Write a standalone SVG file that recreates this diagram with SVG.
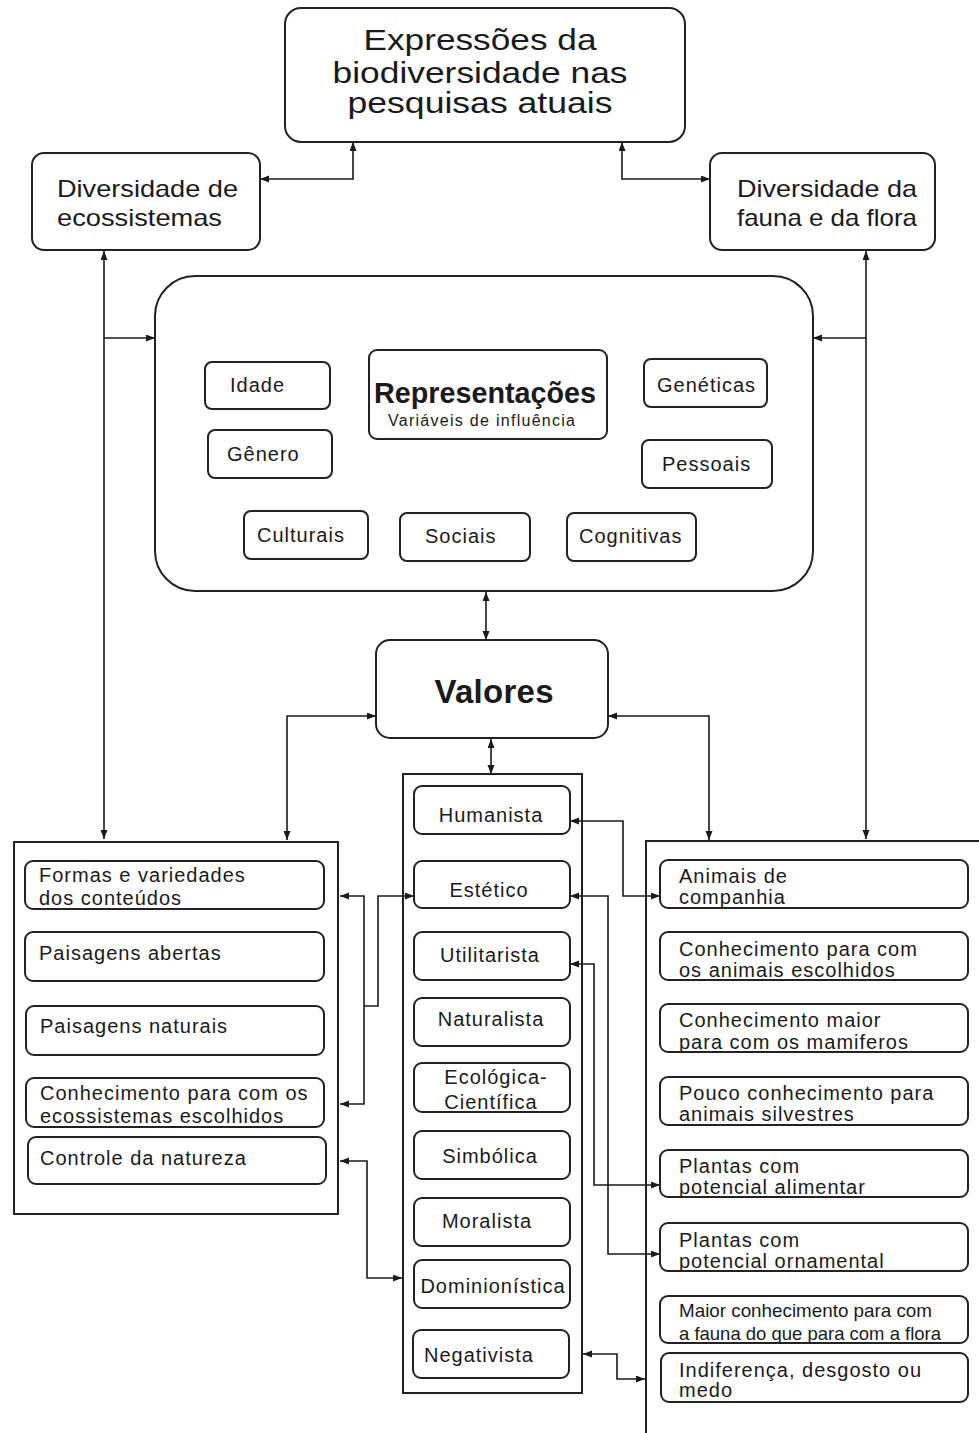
<svg xmlns="http://www.w3.org/2000/svg" width="979" height="1433" viewBox="0 0 979 1433">
<defs>
<marker id="ah" markerUnits="userSpaceOnUse" markerWidth="10" markerHeight="8" refX="9" refY="3.5" orient="auto-start-reverse">
<path d="M0,0 L9,3.5 L0,7 z" fill="#1a1a1a"/>
</marker>
</defs>
<style>
text{font-family:"Liberation Sans",Arial,sans-serif;fill:#1a1a1a}
.box{fill:#fff;stroke:#222;stroke-width:2}
.cont{fill:none;stroke:#222;stroke-width:2}
.con{fill:none;stroke:#1a1a1a;stroke-width:1.6;marker-start:url(#ah);marker-end:url(#ah)}
.con1{fill:none;stroke:#1a1a1a;stroke-width:1.6;marker-end:url(#ah)}
.t{font-size:20px;letter-spacing:1px}
.tm{font-size:20px;letter-spacing:1px;text-anchor:middle}
.title{font-size:30px;text-anchor:middle}
.div{font-size:24px}
</style>
<rect width="979" height="1433" fill="#fff"/>

<g id="connectors">
<path class="con" d="M353,142 V179 H260"/>
<path class="con" d="M622,142 V179 H710"/>
<path class="con" d="M104,251 V839"/>
<path class="con1" d="M104,338 H155"/>
<path class="con" d="M866,251 V839"/>
<path class="con1" d="M866,338 H813"/>
<path class="con" d="M486,592 V640"/>
<path class="con" d="M376,716 H287 V840"/>
<path class="con" d="M608,716 H709 V840"/>
<path class="con" d="M491,739 V774"/>
<path class="con" d="M570,821 H623 V896 H660"/>
<path class="con" d="M340,896 H364 V1104 H340"/>
<path class="con1" d="M364,1006 H378 V896 H414"/>
<path class="con" d="M570,896 H608 V1254 H660"/>
<path class="con" d="M570,964 H594 V1185 H660"/>
<path class="con" d="M340,1161 H367 V1278 H402"/>
<path class="con" d="M583,1354 H617 V1379 H645"/>
</g>

<g id="n-top">
<rect class="box" x="285" y="8" width="400" height="134" rx="16"/>
<text class="title" x="480" y="50" textLength="233" lengthAdjust="spacingAndGlyphs">Expressões da</text>
<text class="title" x="480" y="83" textLength="295" lengthAdjust="spacingAndGlyphs">biodiversidade nas</text>
<text class="title" x="480" y="113" textLength="265" lengthAdjust="spacingAndGlyphs">pesquisas atuais</text>
</g>

<g id="n-ecossistemas">
<rect class="box" x="32" y="153" width="228" height="97" rx="12"/>
<text class="div" x="57" y="197" textLength="181" lengthAdjust="spacingAndGlyphs">Diversidade de</text>
<text class="div" x="57" y="226" textLength="165" lengthAdjust="spacingAndGlyphs">ecossistemas</text>
</g>

<g id="n-fauna">
<rect class="box" x="710" y="153" width="225" height="97" rx="12"/>
<text class="div" x="737" y="197" textLength="180" lengthAdjust="spacingAndGlyphs">Diversidade da</text>
<text class="div" x="737" y="226" textLength="180" lengthAdjust="spacingAndGlyphs">fauna e da flora</text>
</g>

<g id="n-representacoes">
<rect class="box" x="155" y="276" width="658" height="315" rx="40"/>
<g id="n-rep-title">
<rect class="box" x="369" y="350" width="238" height="89" rx="8"/>
<text x="374" y="403" font-size="30" font-weight="bold" textLength="222" lengthAdjust="spacingAndGlyphs">Representações</text>
<text x="388" y="426" font-size="16" textLength="187">Variáveis de influência</text>
</g>
<g id="n-idade"><rect class="box" x="205" y="362" width="125" height="47" rx="7"/><text class="t" x="230" y="392">Idade</text></g>
<g id="n-genero"><rect class="box" x="208" y="430" width="124" height="48" rx="7"/><text class="t" x="227" y="461">Gênero</text></g>
<g id="n-geneticas"><rect class="box" x="644" y="359" width="123" height="48" rx="7"/><text class="t" x="657" y="392">Genéticas</text></g>
<g id="n-pessoais"><rect class="box" x="642" y="440" width="130" height="48" rx="7"/><text class="t" x="662" y="471">Pessoais</text></g>
<g id="n-culturais"><rect class="box" x="244" y="511" width="124" height="48" rx="7"/><text class="t" x="257" y="542">Culturais</text></g>
<g id="n-sociais"><rect class="box" x="400" y="513" width="130" height="48" rx="7"/><text class="t" x="425" y="543">Sociais</text></g>
<g id="n-cognitivas"><rect class="box" x="567" y="513" width="129" height="48" rx="7"/><text class="t" x="579" y="543">Cognitivas</text></g>
</g>

<g id="n-valores">
<rect class="box" x="376" y="640" width="232" height="98" rx="14"/>
<text x="494" y="703" font-size="33" font-weight="bold" text-anchor="middle" textLength="119">Valores</text>
</g>

<g id="n-left">
<rect class="cont" x="14" y="842" width="324" height="372"/>
<g id="n-formas"><rect class="box" x="25" y="861" width="299" height="48" rx="8"/><text class="t" x="39" y="882">Formas e variedades</text><text class="t" x="39" y="905">dos conteúdos</text></g>
<g id="n-abertas"><rect class="box" x="25" y="932" width="299" height="49" rx="8"/><text class="t" x="39" y="960">Paisagens abertas</text></g>
<g id="n-naturais"><rect class="box" x="26" y="1006" width="298" height="49" rx="8"/><text class="t" x="40" y="1033">Paisagens naturais</text></g>
<g id="n-conh-eco"><rect class="box" x="26" y="1078" width="298" height="49" rx="8"/><text class="t" x="40" y="1100">Conhecimento para com os</text><text class="t" x="40" y="1123">ecossistemas escolhidos</text></g>
<g id="n-controle"><rect class="box" x="28" y="1137" width="298" height="47" rx="8"/><text class="t" x="40" y="1165">Controle da natureza</text></g>
</g>

<g id="n-middle">
<rect class="cont" x="403" y="774" width="179" height="619"/>
<g id="n-humanista"><rect class="box" x="414" y="786" width="156" height="48" rx="8"/><text class="tm" x="491" y="822">Humanista</text></g>
<g id="n-estetico"><rect class="box" x="414" y="861" width="156" height="47" rx="8"/><text class="tm" x="489" y="897">Estético</text></g>
<g id="n-utilitarista"><rect class="box" x="414" y="932" width="156" height="48" rx="8"/><text class="tm" x="490" y="962">Utilitarista</text></g>
<g id="n-naturalista"><rect class="box" x="414" y="998" width="156" height="48" rx="8"/><text class="tm" x="491" y="1026">Naturalista</text></g>
<g id="n-ecologica"><rect class="box" x="414" y="1063" width="156" height="49" rx="8"/><text class="tm" x="496" y="1084">Ecológica-</text><text class="tm" x="491" y="1109">Científica</text></g>
<g id="n-simbolica"><rect class="box" x="414" y="1131" width="156" height="48" rx="8"/><text class="tm" x="490" y="1163">Simbólica</text></g>
<g id="n-moralista"><rect class="box" x="414" y="1198" width="156" height="48" rx="8"/><text class="tm" x="487" y="1228">Moralista</text></g>
<g id="n-dominionistica"><rect class="box" x="414" y="1260" width="156" height="48" rx="8"/><text class="tm" x="493" y="1293">Dominionística</text></g>
<g id="n-negativista"><rect class="box" x="413" y="1330" width="156" height="48" rx="8"/><text class="t" x="424" y="1362">Negativista</text></g>
</g>

<g id="n-right">
<path class="cont" d="M646,1433 V841 H979"/>
<g id="n-animais"><rect class="box" x="660" y="860" width="308" height="48" rx="8"/><text class="t" x="679" y="883">Animais de</text><text class="t" x="679" y="904">companhia</text></g>
<g id="n-conh-animais"><rect class="box" x="660" y="932" width="308" height="48" rx="8"/><text class="t" x="679" y="956">Conhecimento para com</text><text class="t" x="679" y="977">os animais escolhidos</text></g>
<g id="n-conh-maior"><rect class="box" x="660" y="1004" width="308" height="48" rx="8"/><text class="t" x="679" y="1027">Conhecimento maior</text><text class="t" x="679" y="1049">para com os mamiferos</text></g>
<g id="n-pouco"><rect class="box" x="660" y="1077" width="308" height="48" rx="8"/><text class="t" x="679" y="1100">Pouco conhecimento para</text><text class="t" x="679" y="1121">animais silvestres</text></g>
<g id="n-alimentar"><rect class="box" x="660" y="1150" width="308" height="47" rx="8"/><text class="t" x="679" y="1173">Plantas com</text><text class="t" x="679" y="1194">potencial alimentar</text></g>
<g id="n-ornamental"><rect class="box" x="660" y="1223" width="308" height="48" rx="8"/><text class="t" x="679" y="1247">Plantas com</text><text class="t" x="679" y="1268">potencial ornamental</text></g>
<g id="n-maior-fauna"><rect class="box" x="660" y="1296" width="308" height="47" rx="8"/><text x="679" y="1317" font-size="18.5" textLength="253" lengthAdjust="spacingAndGlyphs">Maior conhecimento para com</text><text x="679" y="1340" font-size="18.5" textLength="262" lengthAdjust="spacingAndGlyphs">a fauna do que para com a flora</text></g>
<g id="n-indiferenca"><rect class="box" x="661" y="1353" width="307" height="49" rx="8"/><text class="t" x="679" y="1377">Indiferença, desgosto ou</text><text class="t" x="679" y="1397">medo</text></g>
</g>
</svg>
